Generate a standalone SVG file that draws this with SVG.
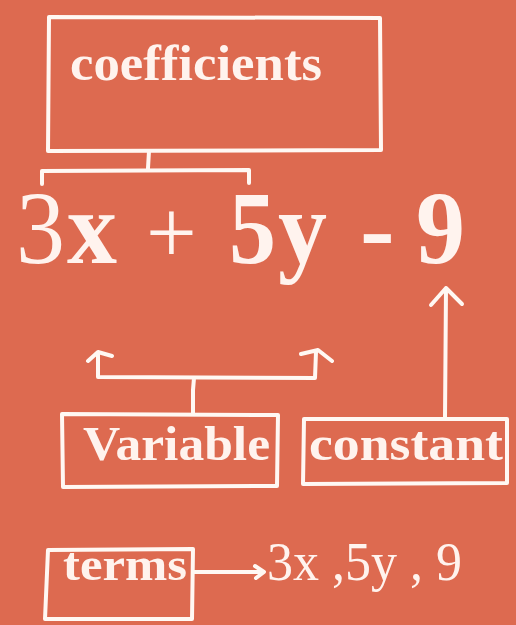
<svg xmlns="http://www.w3.org/2000/svg" width="516" height="625" viewBox="0 0 516 625">
<style>
.ln{fill:none;stroke:#fff8f3;stroke-width:4;stroke-linecap:round;stroke-linejoin:round}
.t{font-family:"Liberation Serif","Times New Roman",serif;font-weight:bold;fill:#fff3ee}
</style>
<rect width="516" height="625" fill="#dd6a50"/>
<g id="coefficients">
<path class="ln" d="M49,17 L380,18 L381,150 L48,151 Z"/>
<text class="t" x="70" y="80" font-size="50" textLength="252" lengthAdjust="spacingAndGlyphs">coefficients</text>
</g>
<g id="equation">
<text class="t" y="263" font-size="104">
<tspan x="16" style="font-weight:normal" textLength="49" lengthAdjust="spacingAndGlyphs">3</tspan><tspan x="67" textLength="50" lengthAdjust="spacingAndGlyphs">x</tspan><tspan x="146" style="font-weight:normal" font-size="90">+</tspan><tspan x="229" textLength="47" lengthAdjust="spacingAndGlyphs">5</tspan><tspan x="278" textLength="49" lengthAdjust="spacingAndGlyphs">y</tspan><tspan x="360">-</tspan><tspan x="416" textLength="49" lengthAdjust="spacingAndGlyphs">9</tspan>
</text>
</g>
<g id="variable">
<path class="ln" d="M62,414 L278,415 L277,486 L63,487 Z"/>
<text class="t" x="83" y="460" font-size="48" textLength="187" lengthAdjust="spacingAndGlyphs">Variable</text>
</g>
<g id="constant">
<path class="ln" d="M304,419 L507,419 L507,483 L303,484 Z"/>
<text class="t" x="309" y="460" font-size="48" textLength="194" lengthAdjust="spacingAndGlyphs">constant</text>
</g>
<g id="terms">
<path class="ln" d="M48,550 L193,549 L192,619 L45,619 Z"/>
<text class="t" x="63" y="580" font-size="46" textLength="124" lengthAdjust="spacingAndGlyphs">terms</text>
</g>
<g id="termlist">
<text class="t" x="267" y="580" font-size="54" style="font-weight:normal" textLength="195" lengthAdjust="spacingAndGlyphs">3x ,5y , 9</text>
</g>
<g id="connectors">
<path class="ln" d="M149,151 L148,168 M42,184 L42,171 L249,170 L249,183"/>
<path class="ln" d="M193,413 L193,390 L194,378 M98,377 L315,378 M98,377 L98,353 M88,361 L98,352 L112,356 M315,378 L316,352 M301,354 L318,350 L332,361"/>
<path class="ln" d="M445,418 L446,288 M431,305 L446,288 L462,304"/>
<path class="ln" d="M194,572 L262,572 M255,566 L264,572 L256,578"/>
</g>
</svg>
